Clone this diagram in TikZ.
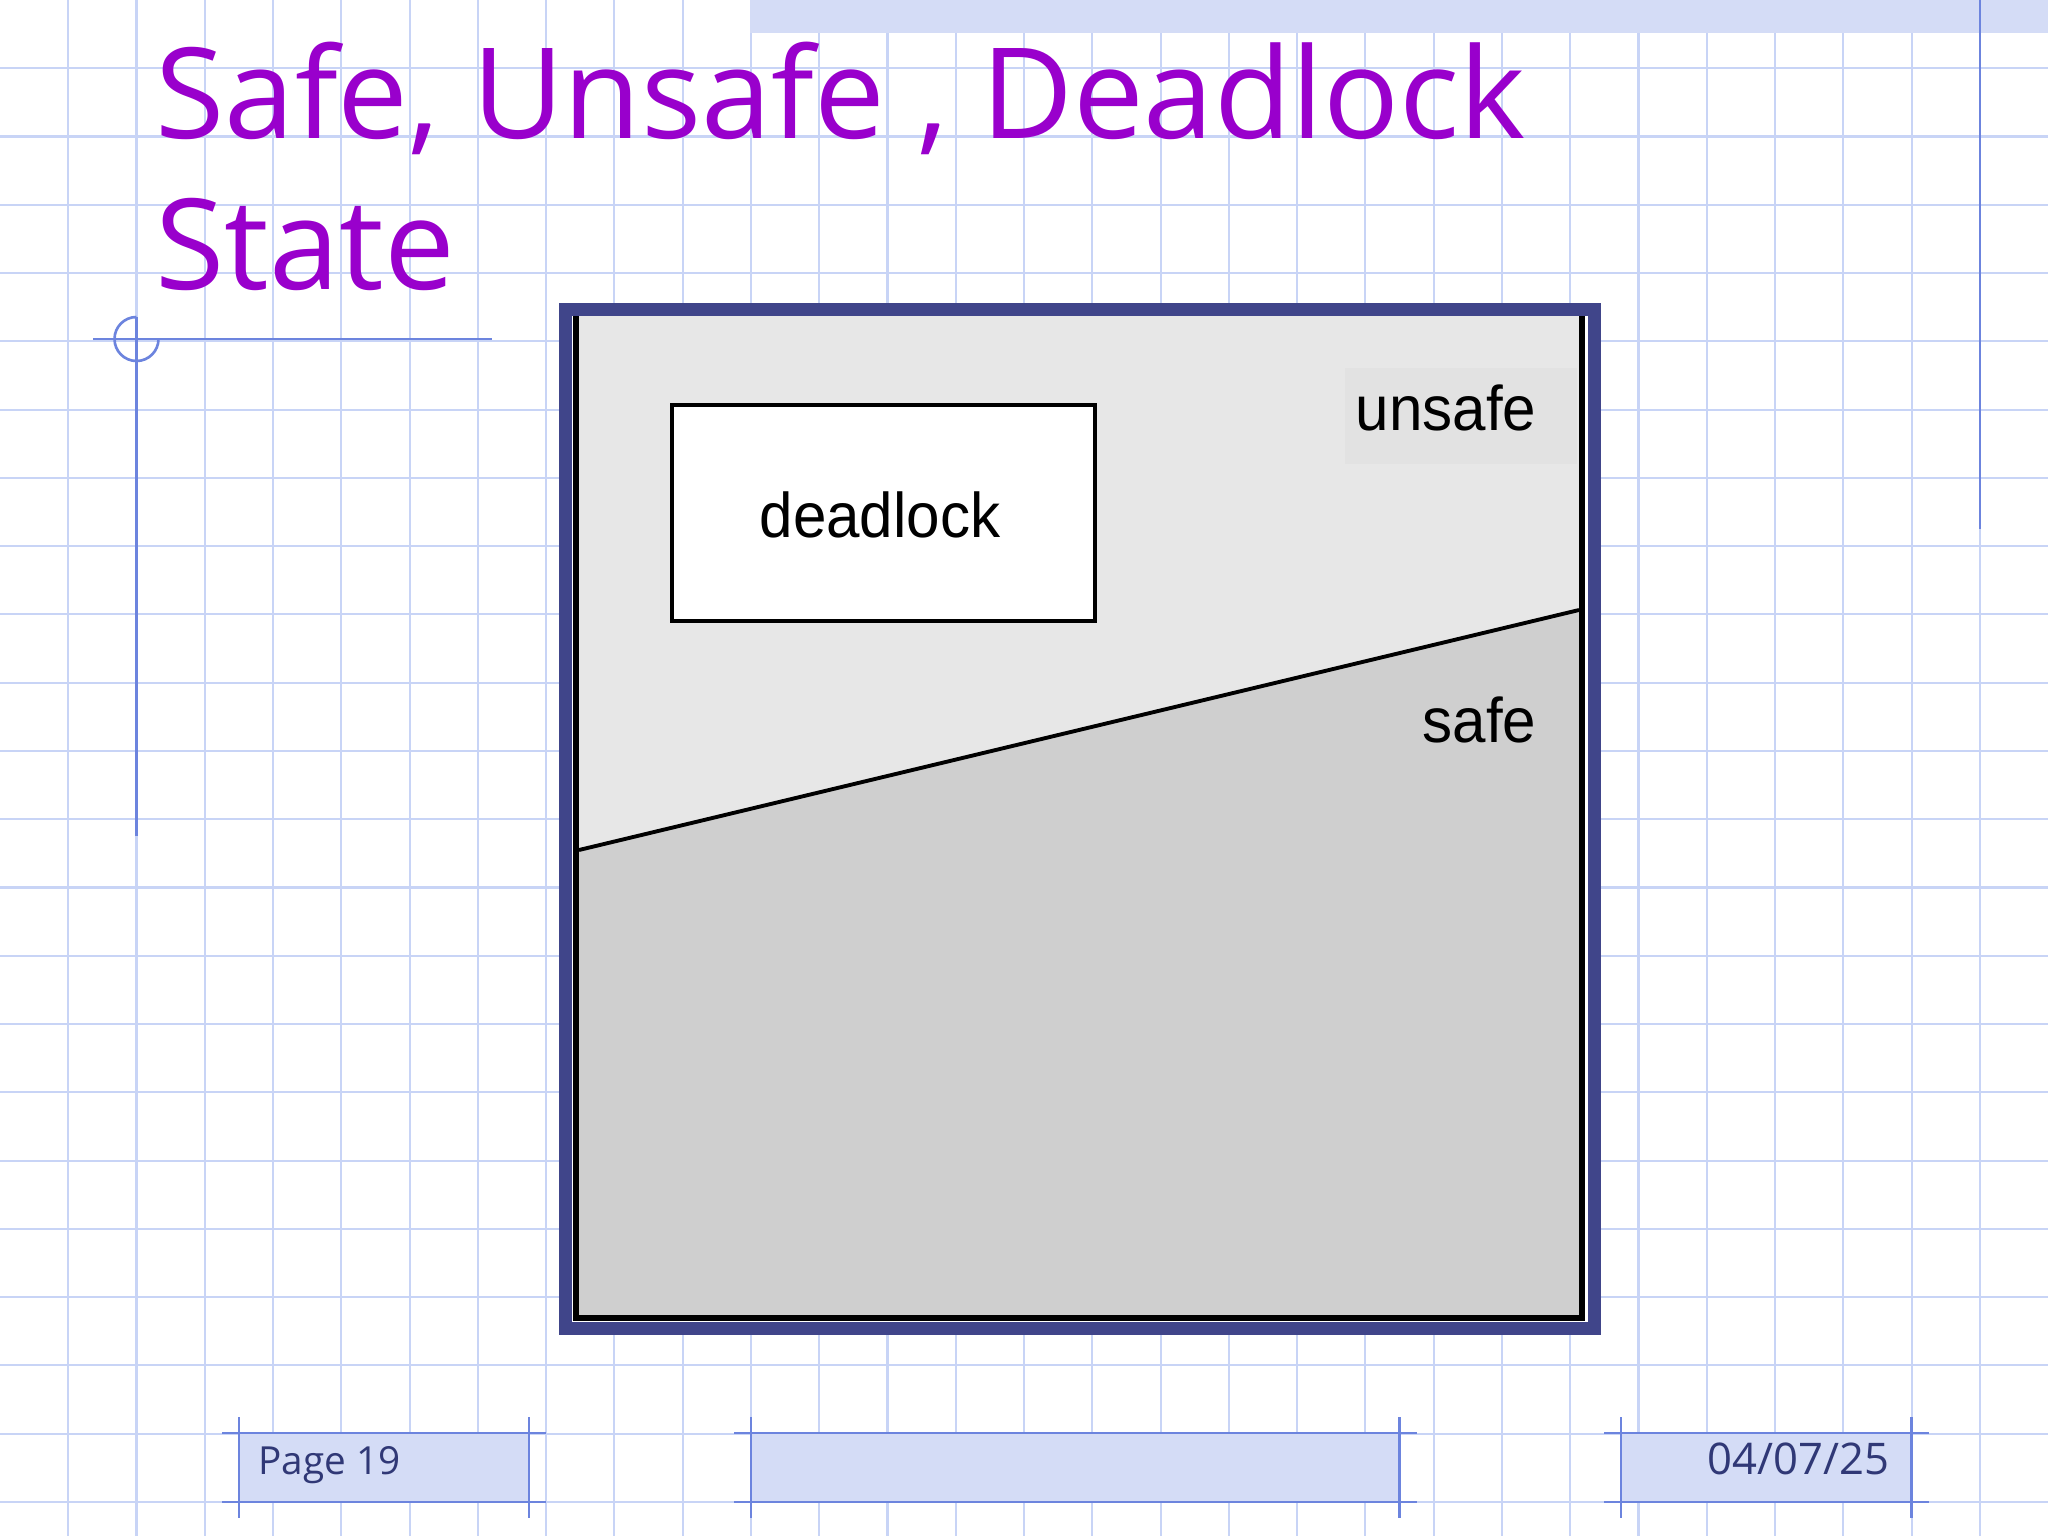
\documentclass[tikz,border=0pt]{standalone}
\usepackage{fontspec}
\setmainfont{Open Sans}
\newfontfamily\titlefont{Open Sans}
\newfontfamily\labfont{Liberation Sans}
\newfontfamily\footfont{Open Sans}
\definecolor{gridblue}{RGB}{200,212,246}
\definecolor{darkblue}{RGB}{108,132,222}
\definecolor{bandblue}{RGB}{212,220,246}
\definecolor{navy}{RGB}{64,69,138}
\definecolor{titlepurple}{RGB}{153,0,204}
\definecolor{foottext}{RGB}{48,56,118}
\definecolor{unsafegray}{RGB}{231,231,231}
\definecolor{labelgray}{RGB}{226,226,226}
\definecolor{safegray}{RGB}{207,207,207}
\tikzset{
  gridline/.style={draw=gridblue, line width=0.6pt},
  darkline/.style={draw=darkblue, line width=0.75pt},
  footbox/.style={fill=bandblue},
  footline/.style={draw=darkblue, line width=0.7pt},
  titletext/.style={inner sep=0pt, text=titlepurple, font=\titlefont\fontsize{35.85}{43}\selectfont},
  labtext/.style={inner sep=0pt, text=black, font=\labfont\fontsize{17.1}{20}\selectfont, yscale=1.05},
  foottxt/.style={inner sep=0pt, text=foottext},
  deadbox/.style={draw=black, fill=white, line width=1.3pt, minimum width=4.23cm, minimum height=2.16cm, inner sep=0pt},
}
\begin{document}
\begin{tikzpicture}[x=0.01cm,y=-0.01cm]
\useasboundingbox (0,0) rectangle (2048,1536);
\fill[white] (0,0) rectangle (2048,1536);
% grid
\foreach \k in {1,...,29} \draw[gridline] (\k*68.27,0) -- (\k*68.27,1536);
\foreach \k in {1,...,22} \draw[gridline] (0,\k*68.27) -- (2048,\k*68.27);
% top band
\fill[bandblue] (750,0) rectangle (2048,33);
% decorative dark lines
\draw[darkline] (1979.8,0) -- (1979.8,529);
\draw[darkline] (136.5,317) -- (136.5,836);
\draw[darkline] (93,339) -- (492,339);
\draw[darkline] (158.5,339) arc[start angle=0, end angle=270, radius=22];
% title
\node[titletext, anchor=base west] (title1) at (155,138) {Safe, Unsafe , Deadlock};
\node[titletext, anchor=base west] (title2) at (155,289) {State};
% footer boxes
\fill[footbox] (239,1433) rectangle (529,1502);
\fill[footbox] (751,1433) rectangle (1399.5,1502);
\fill[footbox] (1621,1433) rectangle (1911.5,1502);
\foreach \a/\b in {239/529, 751/1399.5, 1621/1911.5}{
  \draw[footline] (\a-17,1433) -- (\b+17,1433);
  \draw[footline] (\a-17,1502) -- (\b+17,1502);
  \draw[footline] (\a,1417) -- (\a,1518);
  \draw[footline] (\b,1417) -- (\b,1518);
}
\node[foottxt, font=\footfont\fontsize{11}{13}\selectfont, anchor=base west] (page) at (258,1474) {Page 19};
\node[foottxt, font=\footfont\fontsize{12.4}{14}\selectfont, anchor=base east] (date) at (1890,1474) {04/07/25};
% diagram frame
\fill[navy] (559,303) rectangle (1601,1335);
\fill[white] (572,316) rectangle (1588,1322);
\fill[unsafegray] (579,316) rectangle (1579,1315);
\coordinate (L) at (579,850);
\coordinate (R) at (1579,610);
\fill[safegray] (L) -- (R) -- (1579,1315) -- (579,1315) -- cycle;
\draw[line width=1.1pt] (L) -- (R);
\draw[line width=1.7pt] (576,316) -- (576,1318) -- (1581.5,1318) -- (1581.5,316);
\fill[labelgray] (1345,368) rectangle (1577,464);
\node[deadbox] (deadlock) at (883.5,513) {};
\node[labtext, anchor=base] (deadlocktext) at (880,537) {deadlock};
\node[labtext, anchor=base east] (unsafe) at (1537,430) {unsafe};
\node[labtext, anchor=base east] (safe) at (1537,742) {safe};
\end{tikzpicture}
\end{document}
